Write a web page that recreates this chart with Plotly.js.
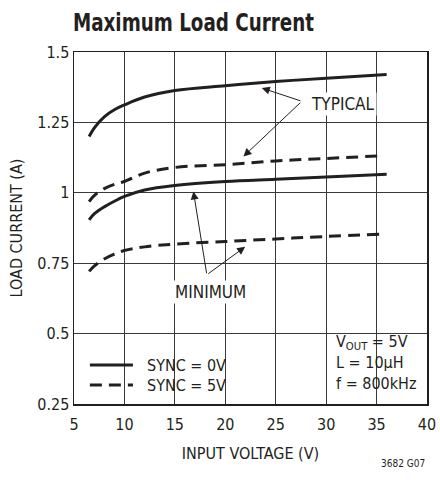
<!DOCTYPE html>
<html>
<head>
<meta charset="utf-8">
<script src="https://cdn.plot.ly/plotly-3.0.1.min.js"></script>
<style>html,body{margin:0;padding:0;background:#fff;}#chart{width:440px;height:487px;}</style>
</head>
<body>
<div id="chart"></div>
<script>
// Data
const inputVoltage = [6.5, 7, 8, 9, 10, 12, 15, 20, 25, 30, 36];
const inputVoltageDashed = [6.5, 7, 8, 9, 10, 12, 15, 20, 25, 30, 35.3];
const typicalSync0 = [1.20, 1.23, 1.27, 1.295, 1.312, 1.34, 1.363, 1.38, 1.395, 1.407, 1.42];
const typicalSync5 = [0.969, 0.99, 1.015, 1.03, 1.04, 1.07, 1.09, 1.10, 1.113, 1.122, 1.131];
const minimumSync0 = [0.904, 0.925, 0.95, 0.97, 0.987, 1.01, 1.026, 1.04, 1.048, 1.056, 1.066];
const minimumSync5 = [0.721, 0.74, 0.765, 0.782, 0.795, 0.808, 0.818, 0.827, 0.836, 0.845, 0.853];
const xTicks = [5, 10, 15, 20, 25, 30, 35, 40];
const yTicks = [0.25, 0.5, 0.75, 1, 1.25, 1.5];
const yTickText = ['0.25', '0.5', '0.75', '1', '1.25', '1.5'];
const legendNames = ['SYNC = 0V', 'SYNC = 5V'];
const conditions = ['V<sub>OUT</sub> = 5V', 'L = 10µH', 'f = 800kHz'];

const FONT = '"Liberation Sans Narrow", "DejaVu Sans Condensed", "Liberation Sans", sans-serif';
const INK = '#231f20';
const DASH = '12px,7px';

const traces = [
  {x: inputVoltage, y: typicalSync0, mode: 'lines', name: legendNames[0],
   line: {color: INK, width: 3, shape: 'spline'}},
  {x: inputVoltageDashed, y: typicalSync5, mode: 'lines', name: legendNames[1],
   line: {color: INK, width: 3, dash: DASH, shape: 'spline'}},
  {x: inputVoltage, y: minimumSync0, mode: 'lines', name: legendNames[0],
   line: {color: INK, width: 3, shape: 'spline'}},
  {x: inputVoltageDashed, y: minimumSync5, mode: 'lines', name: legendNames[1],
   line: {color: INK, width: 3, dash: DASH, shape: 'spline'}}
];

const arrow = (x, y, ax, ay) => ({x, y, ax, ay, xref: 'x', yref: 'y', axref: 'x', ayref: 'y',
  text: '', showarrow: true, arrowhead: 2, arrowsize: 1.6, arrowwidth: 1, arrowcolor: INK});
const label = (text, x, y, extra) => Object.assign({text, x, y, xref: 'x', yref: 'y', showarrow: false,
  font: {family: FONT, size: 17, color: INK}, bgcolor: '#fff', borderpad: 1}, extra || {});
const paperText = (text, x, y) => ({text, x, y, xref: 'paper', yref: 'paper', xanchor: 'left', yanchor: 'middle',
  showarrow: false, borderpad: 0, font: {family: FONT, size: 16, color: INK}});

const layout = {
  width: 440, height: 487,
  margin: {l: 74, r: 13, t: 52, b: 83},
  paper_bgcolor: '#fff', plot_bgcolor: '#fff',
  font: {family: FONT, color: INK, size: 16},
  showlegend: false,
  title: {text: '<b>Maximum Load Current</b>', font: {family: FONT, size: 25, color: INK},
    x: 73 / 440, xanchor: 'left', xref: 'container', y: 1 - 22 / 487, yanchor: 'middle'},
  xaxis: {range: [5, 40], tickvals: xTicks, ticks: '', showgrid: true, gridcolor: '#3a3a3a', gridwidth: 1,
    zeroline: false, showline: true, linecolor: INK, linewidth: 1.5, mirror: true,
    tickfont: {family: FONT, size: 16, color: INK}, ticklabelstandoff: 5,
    title: {text: 'INPUT VOLTAGE (V)', font: {family: FONT, size: 16, color: INK}, standoff: 15}},
  yaxis: {range: [0.25, 1.5], tickvals: yTicks, ticktext: yTickText, ticks: '', showgrid: true, gridcolor: '#3a3a3a', gridwidth: 1,
    zeroline: false, showline: true, linecolor: INK, linewidth: 1.5, mirror: true,
    tickfont: {family: FONT, size: 16, color: INK},
    title: {text: 'LOAD CURRENT (A)', font: {family: FONT, size: 16, color: INK}, standoff: 10}},
  annotations: [
    arrow(23.62, 1.372, 27.59, 1.325),
    arrow(21.8, 1.129, 27.59, 1.325),
    label('TYPICAL', 31.68, 1.315),
    arrow(16.84, 1.005, 18.17, 0.709),
    arrow(21.97, 0.808, 18.17, 0.709),
    label('MINIMUM', 18.5, 0.649),
    paperText(conditions[0], 261 / 353, 62 / 352),
    paperText(conditions[1], 261 / 353, 42 / 352),
    paperText(conditions[2], 261 / 353, 21 / 352),
    paperText(legendNames[0], 0.204, 39 / 352),
    paperText(legendNames[1], 0.204, 19 / 352),
    {text: '3682 G07', xref: 'paper', yref: 'paper', x: 1.0, y: -0.168, xanchor: 'right', yanchor: 'middle',
     showarrow: false, font: {family: FONT, size: 10, color: INK}}
  ],
  shapes: [
    // white boxes behind the conditions block and the legend (hide gridlines)
    {type: 'rect', xref: 'paper', yref: 'paper', x0: 256 / 353, x1: 341 / 353, y0: 7 / 352, y1: 74 / 352,
     fillcolor: '#fff', line: {width: 0}, layer: 'between'},
    {type: 'rect', xref: 'paper', yref: 'paper', x0: 6 / 353, x1: 154 / 353, y0: 4 / 352, y1: 57 / 352,
     fillcolor: '#fff', line: {width: 0}, layer: 'between'},
    // legend samples
    {type: 'line', xref: 'paper', yref: 'paper', x0: 0.045, x1: 0.167, y0: 39 / 352, y1: 39 / 352,
     line: {color: INK, width: 3}},
    {type: 'line', xref: 'paper', yref: 'paper', x0: 0.045, x1: 0.167, y0: 19 / 352, y1: 19 / 352,
     line: {color: INK, width: 3, dash: DASH}}
  ]
};

Plotly.newPlot('chart', traces, layout, {staticPlot: true, displayModeBar: false}).then(function (gd) {
  // condense the bold title to the reference width
  var t = gd.querySelector('.gtitle');
  if (t) { t.setAttribute('textLength', '241'); t.setAttribute('lengthAdjust', 'spacingAndGlyphs'); }
});
</script>
</body>
</html>
